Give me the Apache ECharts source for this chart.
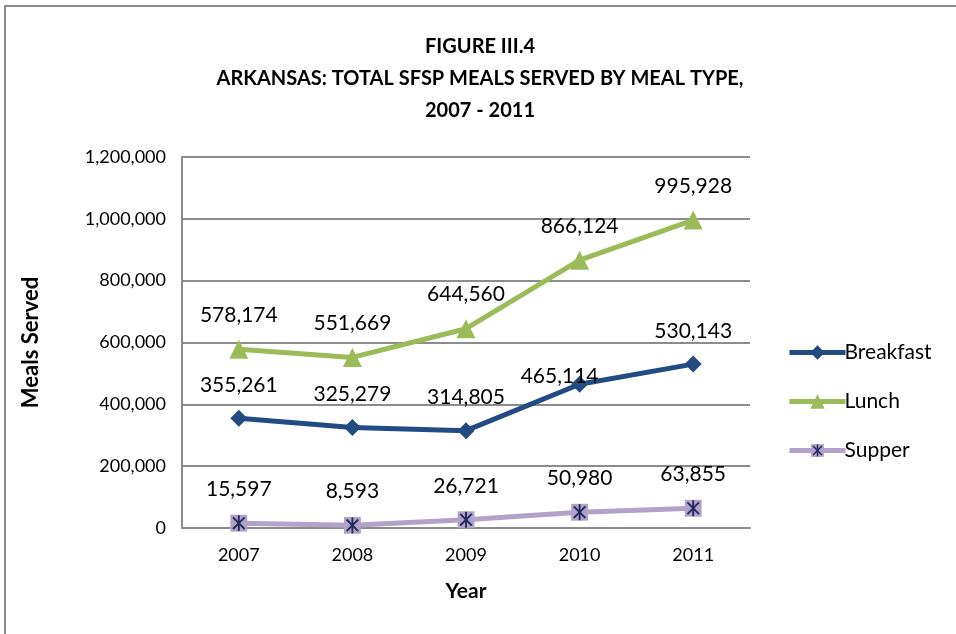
<!DOCTYPE html>
<html>
<head>
<meta charset="utf-8">
<script src="https://cdn.jsdelivr.net/npm/echarts@6/dist/echarts.min.js"></script>
<style>
  html, body { margin: 0; padding: 0; background: #fff; }
  #frame { position: absolute; left: 4px; top: 5px; width: 960px; height: 640px; border: 2px solid #8c8c8c; box-sizing: border-box; }
  #chart { position: absolute; left: 0; top: 0; width: 956px; height: 634px; }
</style>
</head>
<body>
<div id="frame"></div>
<div id="chart"></div>
<script>
// Meals served per year, by meal type
const years = ['2007', '2008', '2009', '2010', '2011'];
const breakfast = [355261, 325279, 314805, 465114, 530143];
const lunch = [578174, 551669, 644560, 866124, 995928];
const supper = [15597, 8593, 26721, 50980, 63855];
const yTicks = [0, 200000, 400000, 600000, 800000, 1000000, 1200000];

const FONT = 'Lato, "Open Sans", sans-serif';

// Supper marker: lavender square with a navy asterisk
const supperSvg =
  '<svg xmlns="http://www.w3.org/2000/svg" width="18" height="18" viewBox="0 0 18 18">' +
  '<rect x="1" y="1" width="16" height="16" fill="#b3a2c7"/>' +
  '<g stroke="#1f2a5e" stroke-width="1.8">' +
  '<line x1="9" y1="1.5" x2="9" y2="16.5"/>' +
  '<line x1="3.5" y1="3.5" x2="14.5" y2="14.5"/>' +
  '<line x1="14.5" y1="3.5" x2="3.5" y2="14.5"/>' +
  '</g></svg>';
const supperSymbol = 'image://data:image/svg+xml;charset=utf-8,' + encodeURIComponent(supperSvg);

const fmt = v => v.toLocaleString('en-US');

function dataLabel() {
  return {
    show: true,
    position: 'top',
    distance: 14,
    color: '#000',
    fontFamily: FONT,
    fontSize: 21,
    formatter: p => fmt(p.value)
  };
}

// The 2010 breakfast label sits left of its point, close to the line
const breakfastData = breakfast.map((v, i) =>
  i === 3 ? { value: v, label: { offset: [-20, 25] } } : v);

const chart = echarts.init(document.getElementById('chart'), null, { renderer: 'canvas' });

chart.setOption({
  backgroundColor: 'transparent',
  animation: false,
  title: {
    text: 'FIGURE III.4\nARKANSAS: TOTAL SFSP MEALS SERVED BY MEAL TYPE,\n2007 - 2011',
    left: 475,
    top: 26,
    textAlign: 'center',
    textStyle: { fontFamily: FONT, fontWeight: 'bold', fontSize: 20, lineHeight: 32, color: '#000' }
  },
  legend: {
    orient: 'vertical',
    left: 782,
    top: 337,
    itemGap: 28,
    itemWidth: 56,
    itemHeight: 18,
    lineStyle: { width: 5 },
    textStyle: { fontFamily: FONT, fontSize: 21, color: '#000', padding: [0, 0, 0, -6] },
    data: ['Breakfast', 'Lunch', 'Supper']
  },
  grid: { left: 182, right: 206, top: 157, bottom: 106, containLabel: false },
  xAxis: {
    type: 'category',
    data: years,
    boundaryGap: true,
    name: 'Year',
    nameLocation: 'middle',
    nameGap: 53,
    nameTextStyle: { fontFamily: FONT, fontWeight: 'bold', fontSize: 21, color: '#000' },
    axisLine: { lineStyle: { color: '#8c8c8c', width: 2 } },
    axisTick: { show: false },
    axisLabel: { fontFamily: FONT, fontSize: 18, color: '#000', margin: 18 }
  },
  yAxis: {
    type: 'value',
    min: 0,
    max: 1200000,
    interval: 200000,
    name: 'Meals Served',
    nameLocation: 'middle',
    nameGap: 140,
    nameTextStyle: { fontFamily: FONT, fontWeight: 'bold', fontSize: 22, color: '#000' },
    axisLine: { show: true, lineStyle: { color: '#8c8c8c', width: 2 } },
    axisTick: { show: false },
    splitLine: { lineStyle: { color: '#8c8c8c', width: 2 } },
    axisLabel: {
      fontFamily: FONT, fontSize: 18, color: '#000', margin: 16,
      formatter: v => yTicks.includes(v) ? fmt(v) : ''
    }
  },
  series: [
    {
      name: 'Breakfast', type: 'line', data: breakfastData,
      symbol: 'diamond', symbolSize: 17, z: 3,
      lineStyle: { color: '#234b83', width: 5 },
      itemStyle: { color: '#234b83' },
      label: dataLabel()
    },
    {
      name: 'Lunch', type: 'line', data: lunch,
      symbol: 'triangle', symbolSize: 19, z: 3,
      lineStyle: { color: '#9bbb59', width: 5 },
      itemStyle: { color: '#9bbb59' },
      label: dataLabel()
    },
    {
      name: 'Supper', type: 'line', data: supper,
      symbol: supperSymbol, symbolSize: 19, z: 3,
      lineStyle: { color: '#b3a2c7', width: 5 },
      itemStyle: { color: '#b3a2c7' },
      label: dataLabel()
    }
  ]
});
</script>
</body>
</html>
